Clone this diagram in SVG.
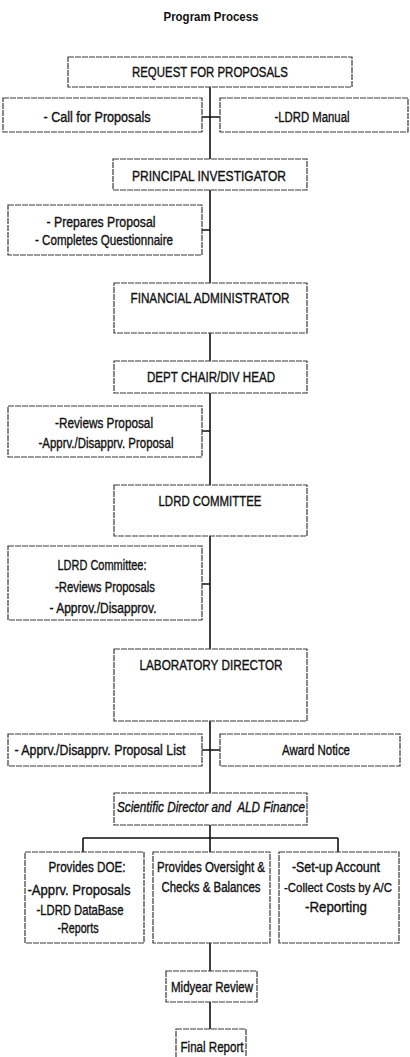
<svg xmlns="http://www.w3.org/2000/svg" width="410" height="1057" viewBox="0 0 410 1057">
<style>
.box{fill:#fff;stroke:#3a3a3a;stroke-width:1.2;stroke-dasharray:6 1}
.t{font-family:"Liberation Sans",Arial,sans-serif;font-size:14px;fill:#111;stroke:#111;stroke-width:0.35;text-anchor:middle}
.ti{font-style:italic}
.title{font-family:"Liberation Sans",Arial,sans-serif;font-size:12px;font-weight:bold;fill:#111;text-anchor:middle}
.c{stroke:#111;stroke-width:1.6;fill:none}
</style>
<rect width="410" height="1057" fill="#fff"/>
<text class="title" x="211" y="21" textLength="95" lengthAdjust="spacingAndGlyphs">Program Process</text>
<g id="connectors">
<path class="c" d="M210 87V159M202 117H220M210 190V283M202 230H210M210 333V361M210 393V485M202 431H210M210 536V649M202 584H210M210 721V793M202 750H220M210 825V838M83 838H338M83 838V852M210 838V852M338 838V852M210 943V971M210 1002V1029"/>
</g>
<g id="rfp"><rect class="box" x="68" y="57" width="284" height="30"/><text class="t" x="210" y="77" textLength="156" lengthAdjust="spacingAndGlyphs">REQUEST FOR PROPOSALS</text></g>
<g id="call"><rect class="box" x="3" y="98" width="199" height="34"/><text class="t" x="97" y="122" textLength="107" lengthAdjust="spacingAndGlyphs">- Call for Proposals</text></g>
<g id="manual"><rect class="box" x="220" y="98" width="188" height="34"/><text class="t" x="312" y="122" textLength="75" lengthAdjust="spacingAndGlyphs">-LDRD Manual</text></g>
<g id="pi"><rect class="box" x="113" y="159" width="194" height="31"/><text class="t" x="209" y="181" textLength="154" lengthAdjust="spacingAndGlyphs">PRINCIPAL INVESTIGATOR</text></g>
<g id="prepares"><rect class="box" x="8" y="205" width="194" height="50"/><text class="t" x="101" y="227" textLength="109" lengthAdjust="spacingAndGlyphs">- Prepares Proposal</text><text class="t" x="104" y="245" textLength="138" lengthAdjust="spacingAndGlyphs">- Completes Questionnaire</text></g>
<g id="fa"><rect class="box" x="114" y="283" width="193" height="50"/><text class="t" x="210" y="303" textLength="159" lengthAdjust="spacingAndGlyphs">FINANCIAL ADMINISTRATOR</text></g>
<g id="dept"><rect class="box" x="114" y="361" width="193" height="32"/><text class="t" x="211" y="382" textLength="128" lengthAdjust="spacingAndGlyphs">DEPT CHAIR/DIV HEAD</text></g>
<g id="reviews"><rect class="box" x="8" y="406" width="194" height="51"/><text class="t" x="104" y="428" textLength="98" lengthAdjust="spacingAndGlyphs">-Reviews Proposal</text><text class="t" x="106" y="448" textLength="135" lengthAdjust="spacingAndGlyphs">-Apprv./Disapprv. Proposal</text></g>
<g id="committee"><rect class="box" x="114" y="485" width="193" height="51"/><text class="t" x="210" y="506" textLength="103" lengthAdjust="spacingAndGlyphs">LDRD COMMITTEE</text></g>
<g id="committee-notes"><rect class="box" x="8" y="546" width="194" height="74"/><text class="t" x="102" y="570" textLength="89" lengthAdjust="spacingAndGlyphs">LDRD Committee:</text><text class="t" x="105" y="592" textLength="100" lengthAdjust="spacingAndGlyphs">-Reviews Proposals</text><text class="t" x="103" y="613" textLength="107" lengthAdjust="spacingAndGlyphs">- Approv./Disapprov.</text></g>
<g id="labdir"><rect class="box" x="114" y="649" width="193" height="72"/><text class="t" x="211" y="670" textLength="143" lengthAdjust="spacingAndGlyphs">LABORATORY DIRECTOR</text></g>
<g id="list"><rect class="box" x="8" y="734" width="194" height="32"/><text class="t" x="100" y="755" textLength="171" lengthAdjust="spacingAndGlyphs">- Apprv./Disapprv. Proposal List</text></g>
<g id="award"><rect class="box" x="220" y="734" width="180" height="32"/><text class="t" x="316" y="755" textLength="68" lengthAdjust="spacingAndGlyphs">Award Notice</text></g>
<g id="scientific"><rect class="box" x="114" y="793" width="193" height="32"/><text class="t ti" x="211" y="812" textLength="188" lengthAdjust="spacingAndGlyphs" xml:space="preserve">Scientific Director and  ALD Finance</text></g>
<g id="doe"><rect class="box" x="25" y="852" width="119" height="91"/><text class="t" x="87" y="872" textLength="77" lengthAdjust="spacingAndGlyphs">Provides DOE:</text><text class="t" x="79" y="895" textLength="103" lengthAdjust="spacingAndGlyphs">-Apprv. Proposals</text><text class="t" x="80" y="915" textLength="87" lengthAdjust="spacingAndGlyphs">-LDRD DataBase</text><text class="t" x="78" y="933" textLength="41" lengthAdjust="spacingAndGlyphs">-Reports</text></g>
<g id="oversight"><rect class="box" x="153" y="852" width="117" height="91"/><text class="t" x="211" y="872" textLength="108" lengthAdjust="spacingAndGlyphs">Provides Oversight &amp;</text><text class="t" x="211" y="892" textLength="99" lengthAdjust="spacingAndGlyphs">Checks &amp; Balances</text></g>
<g id="account"><rect class="box" x="279" y="852" width="120" height="91"/><text class="t" x="336" y="872" textLength="88" lengthAdjust="spacingAndGlyphs">-Set-up Account</text><text class="t" x="338" y="892" style="font-size:12.5px" textLength="108" lengthAdjust="spacingAndGlyphs">-Collect Costs by A/C</text><text class="t" x="336" y="912" textLength="62" lengthAdjust="spacingAndGlyphs">-Reporting</text></g>
<g id="midyear"><rect class="box" x="166" y="971" width="91" height="31"/><text class="t" x="212" y="992" textLength="82" lengthAdjust="spacingAndGlyphs">Midyear Review</text></g>
<g id="final"><rect class="box" x="176" y="1029" width="70" height="32"/><text class="t" x="212" y="1052" textLength="63" lengthAdjust="spacingAndGlyphs">Final Report</text></g>
</svg>
